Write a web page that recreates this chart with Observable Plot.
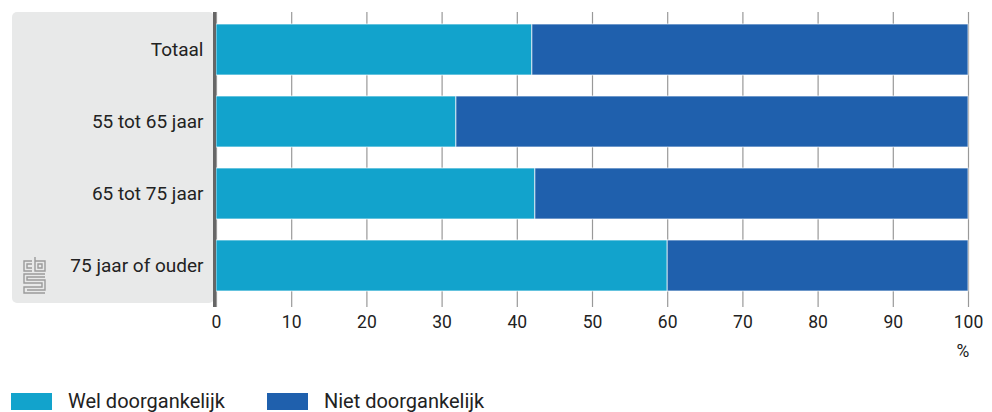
<!DOCTYPE html>
<html><head><meta charset="utf-8">
<script src="https://cdn.jsdelivr.net/npm/d3@7"></script>
<script src="https://cdn.jsdelivr.net/npm/@observablehq/plot@0.6"></script>
<style>
body{margin:0;background:#fff;font-family:Roboto,"Noto Sans",sans-serif;color:#222;}
#chart{position:relative;width:992px;}
#legend{display:flex;align-items:center;margin-top:22px;font-size:20px;color:#222;}
.item{display:flex;align-items:center;margin-left:11px;margin-right:30px;}
.sw{width:41px;height:17px;margin-right:16px;}
</style></head>
<body>
<div id="chart"></div>
<div id="legend"></div>
<script>
const categories = ["Totaal", "55 tot 65 jaar", "65 tot 75 jaar", "75 jaar of ouder"];
const series = ["Wel doorgankelijk", "Niet doorgankelijk"];
const welValues = [42.0, 31.9, 42.4, 60.0];
const nietValues = [58.0, 68.1, 57.6, 40.0];
const colors = ["#12a3cc", "#1f60ad"];
const xTicks = [0, 10, 20, 30, 40, 50, 60, 70, 80, 90, 100];

const rows = [];
categories.forEach((c, i) => {
  rows.push({cat: c, series: series[0], value: welValues[i]});
  rows.push({cat: c, series: series[1], value: nietValues[i]});
});

function panel(index, scales, values, dims) {
  const g = d3.create("svg:g");
  const top = dims.marginTop, bottom = dims.height - dims.marginBottom;
  g.append("rect").attr("x", 12).attr("y", top).attr("width", dims.marginLeft - 14)
    .attr("height", bottom - top).attr("rx", 5).attr("fill", "#e8e9e9");
  // cbs logo (approximation)
  const lg = g.append("g").attr("transform", `translate(23,${bottom - 46})`)
    .attr("fill", "none").attr("stroke", "#9a9a9a").attr("stroke-width", 1.4);
  lg.append("path").attr("d", "M9,4 H1 V14 H9 M9,7 H4 V11 H9");
  lg.append("path").attr("d", "M12,0 V14 H22 V4 H12 M15,7 H19 V11 H15 Z");
  lg.append("path").attr("d", "M22,17 H1 V26 H19 V30 H1 V36 H22 M22,20 H4 V23 H22 V33 H4");
  return g.node();
}
function axisLine(index, scales, values, dims) {
  const g = d3.create("svg:g");
  const top = dims.marginTop, bottom = dims.height - dims.marginBottom;
  g.append("line").attr("x1", dims.marginLeft - 1.5).attr("x2", dims.marginLeft - 1.5)
    .attr("y1", top).attr("y2", bottom + 4).attr("stroke", "#666").attr("stroke-width", 3);
  g.append("text").attr("x", dims.width - dims.marginRight - 5).attr("y", bottom + 54)
    .attr("text-anchor", "middle").attr("font-size", 17.5).attr("fill", "#222").text("%");
  return g.node();
}

const chart = Plot.plot({
  width: 992,
  height: 367,
  marginTop: 12,
  marginBottom: 64,
  marginLeft: 216,
  marginRight: 24,
  style: {fontFamily: "Roboto, 'Noto Sans', sans-serif", fontSize: "17px", color: "#222", background: "transparent"},
  x: {domain: [0, 100], ticks: xTicks, label: null},
  y: {domain: categories, paddingInner: 0.29, paddingOuter: 0.14, label: null},
  color: {domain: series, range: colors},
  marks: [
    panel,
    Plot.ruleX(xTicks, {stroke: "#999", strokeWidth: 1.2, insetBottom: -4}),
    Plot.barX(rows, Plot.stackX({x: "value", y: "cat", fill: "series", stroke: "#ffffff", strokeOpacity: 0.7, strokeWidth: 1, order: series})),
    Plot.axisX({ticks: xTicks, tickSize: 0, tickPadding: 12, fontSize: 17.5, label: null}),
    Plot.axisY({tickSize: 0, tickPadding: 13, fontSize: 19, label: null}),
    axisLine
  ]
});
document.getElementById("chart").appendChild(chart);

const legend = document.getElementById("legend");
series.forEach((s, i) => {
  const it = document.createElement("div");
  it.className = "item";
  it.innerHTML = `<div class="sw" style="background:${colors[i]}"></div><span>${s}</span>`;
  if (i === 1) it.style.marginLeft = "12px";
  legend.appendChild(it);
});
</script>
</body></html>
